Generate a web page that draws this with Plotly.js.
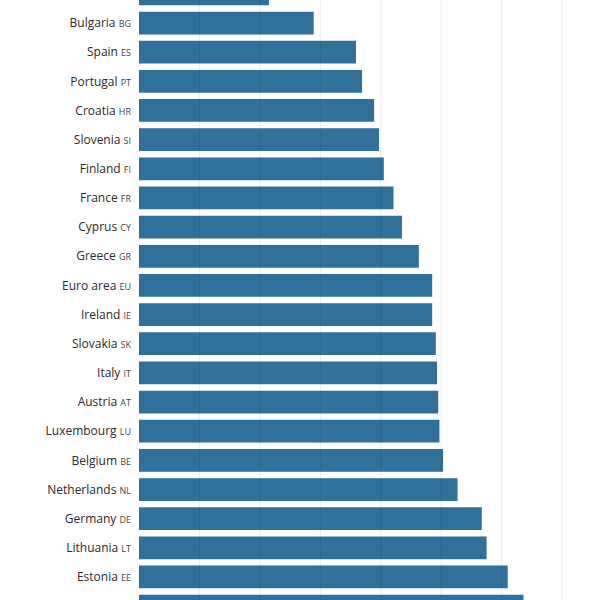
<!DOCTYPE html>
<html>
<head>
<meta charset="utf-8">
<script src="https://cdn.plot.ly/plotly-3.0.1.min.js"></script>
<style>html,body{margin:0;padding:0;background:#fff;overflow:hidden}</style>
</head>
<body>
<div id="chart" style="width:596px;height:600px"></div>
<script>
// Countries (top to bottom)
const countries = ["Malta","Bulgaria","Spain","Portugal","Croatia","Slovenia","Finland","France","Cyprus","Greece","Euro area","Ireland","Slovakia","Italy","Austria","Luxembourg","Belgium","Netherlands","Germany","Lithuania","Estonia","Latvia"];
const codes = ["MT","BG","ES","PT","HR","SI","FI","FR","CY","GR","EU","IE","SK","IT","AT","LU","BE","NL","DE","LT","EE","LV"];
const values = [21.5,28.9,35.9,36.9,38.9,39.7,40.5,42.1,43.5,46.3,48.5,48.5,49.1,49.3,49.5,49.7,50.3,52.7,56.7,57.5,61.0,63.6];
const gridTicks = [10,20,30,40,50,60,70];

const labels = countries.map((c,i)=> c + " <span style='font-size:9px;color:#444'>" + codes[i] + "</span>");

const trace = {
  type: 'bar',
  orientation: 'h',
  y: countries,
  x: values,
  marker: {color: '#30719b'},
  hoverinfo: 'x+y'
};

const shapes = gridTicks.map(v => ({
  type: 'line', layer: 'above', xref: 'x', yref: 'paper',
  x0: v, x1: v, y0: 0, y1: 1,
  line: {color: 'rgba(0,0,0,0.08)', width: 1}
}));

const layout = {
  width: 596, height: 600,
  margin: {l: 139, r: 0, t: 0, b: 0, pad: 0},
  paper_bgcolor: '#fff', plot_bgcolor: '#fff',
  bargap: 0.22,
  showlegend: false,
  shapes: shapes,
  font: {family: 'Open Sans, sans-serif', size: 12, color: '#333'},
  xaxis: {
    range: [0, 75.6], showgrid: false,
    zeroline: false, showticklabels: false, showline: false, ticks: ''
  },
  yaxis: {
    type: 'category', categoryorder: 'array', categoryarray: countries,
    tickmode: 'array', tickvals: countries, ticktext: labels,
    range: [20.789, 0.211], showgrid: false, zeroline: false, showline: false,
    ticks: '', ticklabelstandoff: 7,
    tickfont: {family: 'Open Sans, sans-serif', size: 12, color: '#2a2a2a'}
  }
};

Plotly.newPlot('chart', [trace], layout, {displayModeBar: false, staticPlot: true});
</script>
</body>
</html>
